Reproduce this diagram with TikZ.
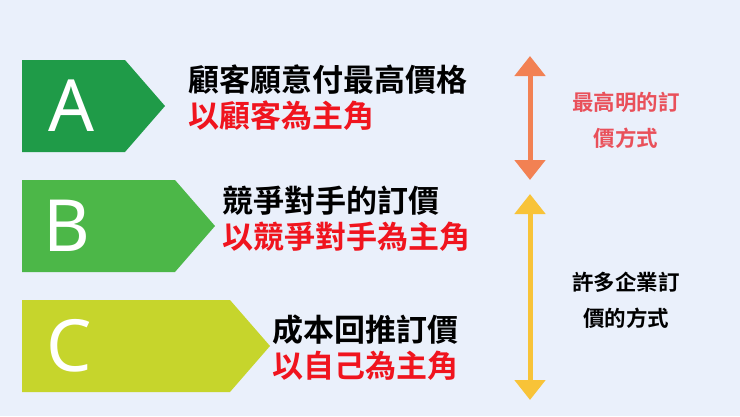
\documentclass[tikz,border=0pt]{standalone}
\usepackage{fontspec}
\newfontfamily\cjk{Noto Sans CJK TC Bold}
\setsansfont{Noto Sans}
\usetikzlibrary{arrows.meta}
\definecolor{bg}{HTML}{EAF0FB}
\definecolor{ga}{HTML}{1F9B48}
\definecolor{gb}{HTML}{4CB748}
\definecolor{gc}{HTML}{C6D52C}
\definecolor{rd}{HTML}{F0141E}
\definecolor{orng}{HTML}{F28153}
\definecolor{yel}{HTML}{F8C338}
\definecolor{pk}{HTML}{E9505A}
\tikzset{
  lett/.style={text=white,font=\sffamily\fontsize{72}{72}\selectfont,anchor=center},
  tline/.style={anchor=west,font=\cjk\fontsize{31}{31}\selectfont,inner sep=0},
  side/.style={align=center,font=\cjk\fontsize{21.5}{36}\selectfont},
  dbl/.style={line width=5pt,{Triangle[length=20pt,width=30pt]}-{Triangle[length=20pt,width=30pt]}}
}
\begin{document}
\begin{tikzpicture}[x=1pt,y=-1pt]
\fill[bg] (0,0) rectangle (740,416);
\useasboundingbox (0,0) rectangle (740,416);
\fill[ga] (22,60) -- (125,60) -- (165,106) -- (125,152) -- (22,152) -- cycle;
\fill[gb] (22,180) -- (175,180) -- (215,226) -- (175,272) -- (22,272) -- cycle;
\fill[gc] (22,300) -- (230,300) -- (270,346) -- (230,392) -- (22,392) -- cycle;
\node[lett] (la) at (72,106) {A};
\node[lett] (lb) at (67,226) {B};
\node[lett] (lc) at (69,346) {C};
\node[tline] (a1) at (188,80) {顧客願意付最高價格};
\node[tline,text=rd] (a2) at (188,116) {以顧客為主角};
\node[tline] (b1) at (222,201) {競爭對手的訂價};
\node[tline,text=rd] (b2) at (222,237) {以競爭對手為主角};
\node[tline] (c1) at (272,330) {成本回推訂價};
\node[tline,text=rd] (c2) at (272,366) {以自己為主角};
\coordinate (o1) at (530,56); \coordinate (o2) at (530,180);
\coordinate (y1) at (530,194); \coordinate (y2) at (530,400);
\draw[dbl,orng] (o1) -- (o2);
\draw[dbl,yel] (y1) -- (y2);
\node[side,text=pk] (s1) at (626,120) {最高明的訂\\價方式};
\node[side] (s2) at (626,300) {許多企業訂\\價的方式};
\end{tikzpicture}
\end{document}
